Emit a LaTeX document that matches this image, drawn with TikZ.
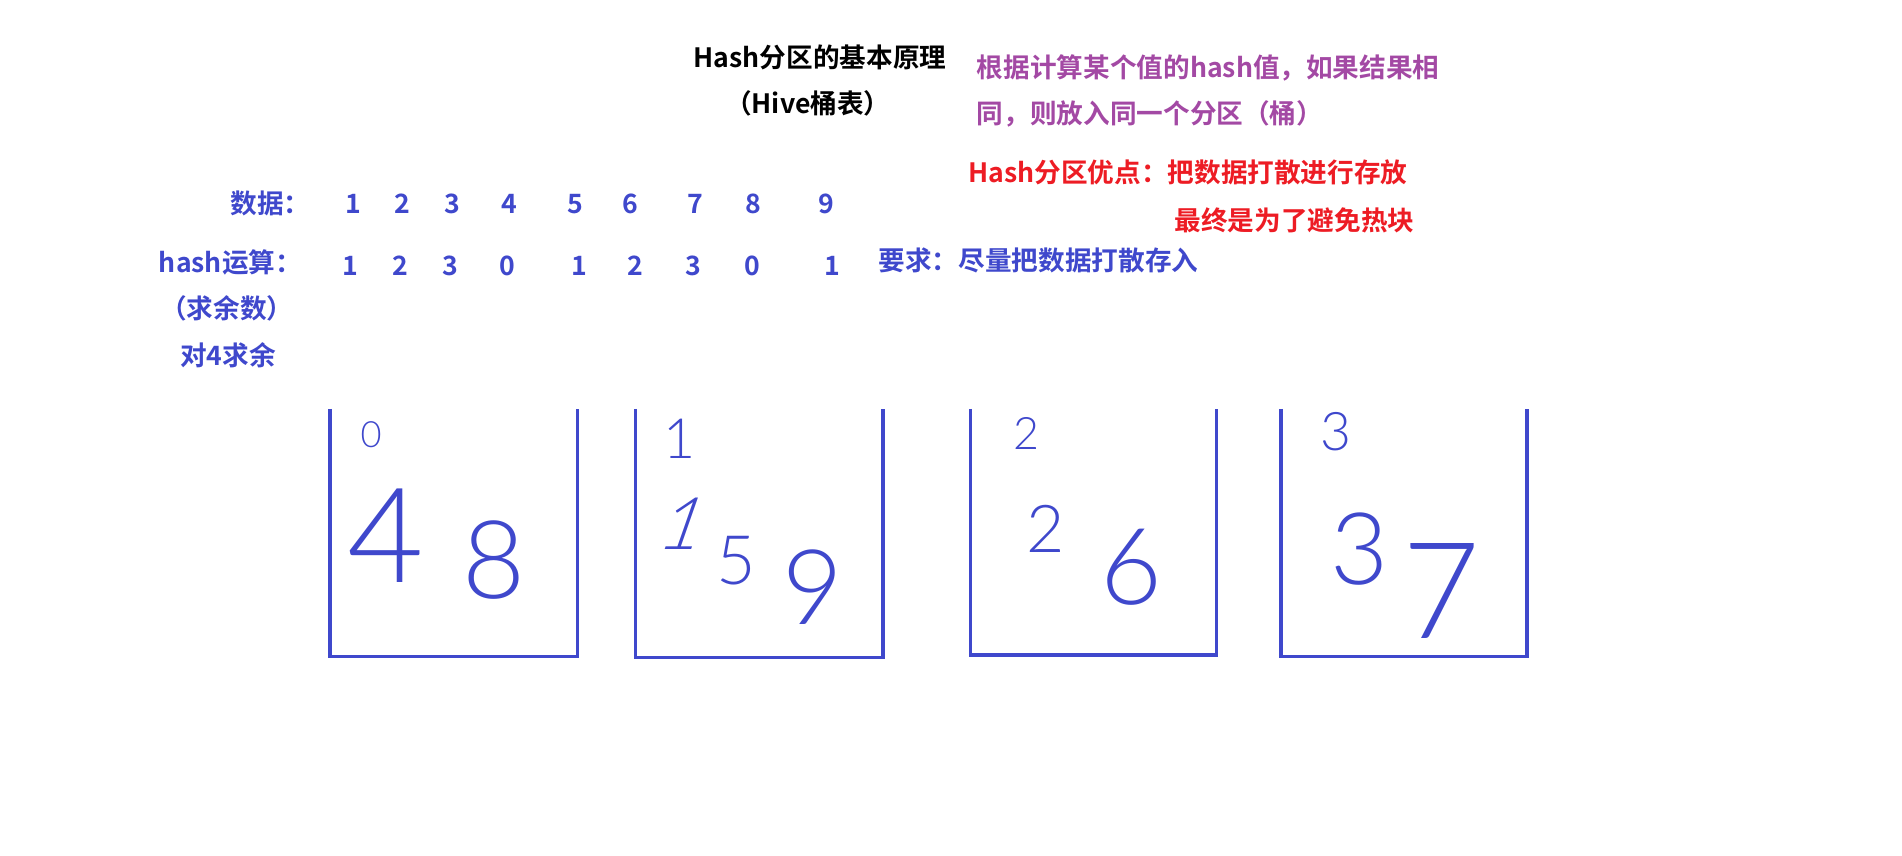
\documentclass[tikz,border=0pt]{standalone}
\usepackage{fontspec}
\setmainfont{Noto Sans CJK SC}[BoldFont={Noto Sans CJK SC Bold}]
\newfontfamily\handfont{Lato Light}
\usepackage{xcolor}
\usetikzlibrary{positioning}
\definecolor{paintblue}{HTML}{3F48CC}
\definecolor{paintred}{HTML}{ED1C24}
\definecolor{paintpurple}{HTML}{A349A4}

\begin{document}
\begin{tikzpicture}[
    x=0.02cm, y=-0.02cm,
    txt/.style={inner sep=0pt, font=\fontsize{12.5}{15}\selectfont\bfseries},
    title/.style={txt, text=black},
    note/.style={txt, text=paintpurple, anchor=west},
    plus/.style={txt, text=paintred, anchor=west},
    label/.style={txt, text=paintblue},
    num/.style={txt, text=paintblue},
    bucket/.style={draw=paintblue, line width=1.6pt},
    hand/.style={inner sep=0pt, text=paintblue, font=\handfont}
]
\useasboundingbox (0,0) rectangle (1568,705);

% Title
\node[title] (title) at (676,47) {Hash分区的基本原理};
\node[title] (subtitle) at (666,85) {（Hive桶表）};

% Explanation
\node[note] (explain1) at (805,56) {根据计算某个值的hash值，如果结果相};
\node[note] (explain2) at (805,94) {同，则放入同一个分区（桶）};
\node[plus] (merit1) at (798,142) {Hash分区优点：把数据打散进行存放};
\node[plus] (merit2) at (968,182) {最终是为了避免热块};
\node[label, anchor=west] (demand) at (724,215) {要求：尽量把数据打散存入};

% Data row
\node[label] (datalabel) at (223,168) {数据：};
\node[num] (d1) at (291,168) {1};
\node[num] (d2) at (332,168) {2};
\node[num] (d3) at (373,168) {3};
\node[num] (d4) at (420,168) {4};
\node[num] (d5) at (474,168) {5};
\node[num] (d6) at (520,168) {6};
\node[num] (d7) at (573,168) {7};
\node[num] (d8) at (621,168) {8};
\node[num] (d9) at (681,168) {9};

% Hash row
\node[label] (hashlabel) at (190,216) {hash运算：};
\node[label] (modlabel) at (187,254) {（求余数）};
\node[label] (fourlabel) at (188,293) {对4求余};
\node[num] (h1) at (289,219) {1};
\node[num] (h2) at (330,219) {2};
\node[num] (h3) at (371,219) {3};
\node[num] (h4) at (418,219) {0};
\node[num] (h5) at (478,219) {1};
\node[num] (h6) at (524,219) {2};
\node[num] (h7) at (572,219) {3};
\node[num] (h8) at (620,219) {0};
\node[num] (h9) at (686,219) {1};

% Buckets
\draw[bucket] (272,337) -- (272,541) -- (476,541) -- (476,337);
\draw[bucket] (524,337) -- (524,542) -- (728,542) -- (728,337);
\draw[bucket] (800,337) -- (800,540) -- (1003,540) -- (1003,337);
\draw[bucket] (1056,337) -- (1056,541) -- (1259,541) -- (1259,337);

% Bucket 0
\node[hand, font=\handfont\fontsize{17}{17}\selectfont] (b0) at (306,358) {0};
\node[hand, font=\handfont\fontsize{62}{62}\selectfont] (b0a) at (318,442) {4};
\node[hand, font=\handfont\fontsize{51}{51}\selectfont] (b0b) at (407,462) {8};

% Bucket 1
\node[hand, font=\handfont\fontsize{26}{26}\selectfont] (b1) at (560,362) {1};
\node[hand, font=\handfont\fontsize{34}{34}\selectfont, xslant=0.35] (b1a) at (565,432) {1};
\node[hand, font=\handfont\fontsize{32}{32}\selectfont] (b1b) at (607,462) {5};
\node[hand, font=\handfont\fontsize{49}{49}\selectfont] (b1c) at (670,484) {9};

% Bucket 2
\node[hand, font=\handfont\fontsize{21}{21}\selectfont] (b2) at (846,357) {2};
\node[hand, font=\handfont\fontsize{31}{31}\selectfont] (b2a) at (862,436) {2};
\node[hand, font=\handfont\fontsize{50}{50}\selectfont] (b2b) at (933,468) {6};

% Bucket 3
\node[hand, font=\handfont\fontsize{25}{25}\selectfont] (b3) at (1101,356) {3};
\node[hand, font=\handfont\fontsize{47}{47}\selectfont] (b3a) at (1121,453) {3};
\node[hand, font=\handfont\fontsize{63}{63}\selectfont] (b3b) at (1188,487) {7};

\end{tikzpicture}
\end{document}
